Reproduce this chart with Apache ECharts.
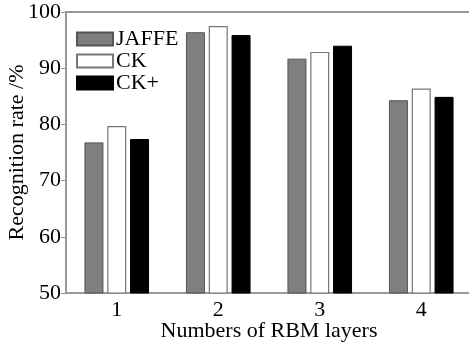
<!DOCTYPE html>
<html><head><meta charset="utf-8">
<script src="https://cdn.jsdelivr.net/npm/echarts@6/dist/echarts.min.js"></script>
<style>html,body{margin:0;padding:0;background:#fff}#c{width:469px;height:344px}</style>
</head><body><div id="c"></div>
<script>
const categories = ['1', '2', '3', '4'];
const jaffe = [76.8, 96.4, 91.7, 84.3];
const ck = [79.7, 97.5, 92.9, 86.4];
const ckPlus = [77.4, 95.9, 94.0, 84.9];
const yTicks = [50, 60, 70, 80, 90, 100];

const font = 'Liberation Serif';
const chart = echarts.init(document.getElementById('c'));
chart.setOption({
  animation: false,
  backgroundColor: '#fff',
  grid: { left: 66, right: -3, top: 12, bottom: 51, show: true, borderColor: '#999', borderWidth: 2,
    outerBoundsMode: 'none', containLabel: false },
  legend: {
    orient: 'vertical', left: 76, top: 28, padding: 0, itemWidth: 36, itemHeight: 13, itemGap: 0,
    icon: 'rect',
    textStyle: { fontFamily: font, fontSize: 22, lineHeight: 22, color: '#000', padding: [0, 0, 0, -2] },
    data: ['JAFFE', 'CK', 'CK+']
  },
  xAxis: {
    type: 'category', data: categories,
    axisLine: { lineStyle: { color: '#999', width: 1.5 } },
    axisTick: { show: false },
    axisLabel: { fontFamily: font, fontSize: 22, color: '#000', margin: 6 },
    name: 'Numbers of RBM layers', nameLocation: 'middle', nameGap: 27, nameMoveOverlap: false,
    nameTextStyle: { fontFamily: font, fontSize: 22, color: '#000' }
  },
  yAxis: {
    type: 'value', min: 50, max: 100, interval: 10,
    splitLine: { show: false },
    axisLine: { show: true, lineStyle: { color: '#999', width: 1.5 } },
    axisTick: { show: true, length: 5, lineStyle: { color: '#999' } },
    axisLabel: { fontFamily: font, fontSize: 22, color: '#000', margin: 5,
      formatter: v => yTicks.includes(v) ? String(v) : '' },
    name: 'Recognition rate /%', nameLocation: 'middle', nameGap: 38, nameMoveOverlap: false,
    nameTextStyle: { fontFamily: font, fontSize: 22, color: '#000' }
  },
  series: [
    { name: 'JAFFE', type: 'bar', data: jaffe, barWidth: 19, barGap: '20%',
      itemStyle: { color: '#7f7f7f', borderColor: '#555', borderWidth: 1 } },
    { name: 'CK', type: 'bar', data: ck, barWidth: 19,
      itemStyle: { color: '#fff', borderColor: '#777', borderWidth: 1.2 } },
    { name: 'CK+', type: 'bar', data: ckPlus, barWidth: 19,
      itemStyle: { color: '#000', borderColor: '#000', borderWidth: 1 } }
  ]
});
</script></body></html>
